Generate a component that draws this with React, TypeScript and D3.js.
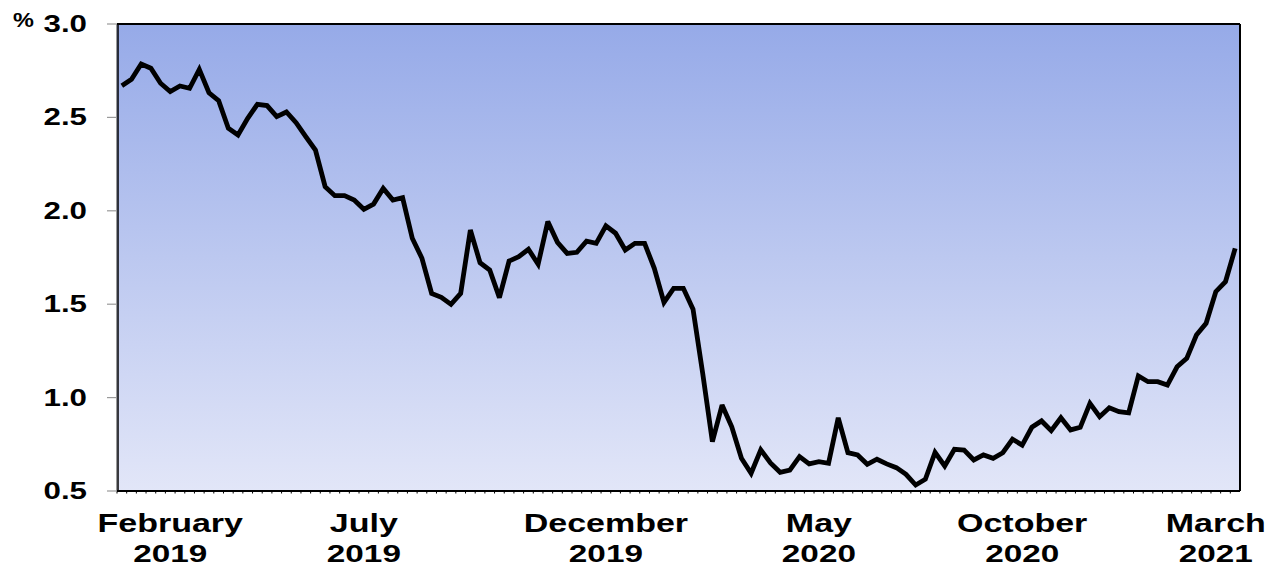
import React from "react";
import * as d3 from "d3";

// Weekly yield series, per cent
const values: number[] = [
  2.670, 2.704, 2.786, 2.763, 2.683, 2.638, 2.668, 2.656, 2.757, 2.632,
  2.589, 2.442, 2.406, 2.495, 2.570, 2.563, 2.504, 2.529, 2.472, 2.397,
  2.325, 2.129, 2.081, 2.081, 2.058, 2.008, 2.036, 2.120, 2.058, 2.070,
  1.853, 1.746, 1.558, 1.537, 1.499, 1.558, 1.897, 1.722, 1.683, 1.535,
  1.731, 1.754, 1.794, 1.714, 1.942, 1.831, 1.772, 1.778, 1.838, 1.826,
  1.919, 1.880, 1.790, 1.826, 1.826, 1.692, 1.510, 1.585, 1.585, 1.473,
  1.130, 0.764, 0.960, 0.844, 0.675, 0.595, 0.720, 0.650, 0.600, 0.612,
  0.684, 0.645, 0.657, 0.648, 0.892, 0.705, 0.693, 0.643, 0.670, 0.645,
  0.625, 0.589, 0.532, 0.563, 0.707, 0.634, 0.723, 0.719, 0.666, 0.693,
  0.675, 0.705, 0.777, 0.746, 0.841, 0.875, 0.823, 0.892, 0.827, 0.841,
  0.969, 0.898, 0.946, 0.925, 0.918, 1.116, 1.085, 1.085, 1.067, 1.165,
  1.210, 1.335, 1.398, 1.567, 1.620, 1.799,
];

// Category labels and the week index they sit under
const monthLabels: string[] = ["February", "July", "December", "May", "October", "March"];
const yearLabels: string[] = ["2019", "2019", "2019", "2020", "2020", "2021"];
const labelIndex: number[] = [5, 25, 50, 72, 93, 113];

const yTicks: number[] = [0.5, 1.0, 1.5, 2.0, 2.5, 3.0];

const W = 1277;
const H = 567;
const plot = { left: 117, right: 1240, top: 24, bottom: 491 };
const STRETCH = 1.36;
const FONT = "'Liberation Sans', Arial, sans-serif";

export default function App() {
  const idx = values.map((_, i) => i);
  const x = d3
    .scaleBand<number>()
    .domain(idx)
    .range([plot.left, plot.right])
    .paddingInner(0)
    .paddingOuter(0);
  const cx = (i: number) => (x(i) as number) + x.bandwidth() / 2;
  const y = d3.scaleLinear().domain([0.5, 3.0]).range([plot.bottom, plot.top]);

  const line = d3
    .line<number>()
    .x((_, i) => cx(i))
    .y((d) => y(d));

  return (
    <svg
      width={W}
      height={H}
      style={{ position: "absolute", left: 0, top: 0 }}
    >
      <defs>
        <linearGradient id="bg" x1="0" y1="0" x2="0" y2="1">
          <stop offset="0%" stopColor="#96aae8" />
          <stop offset="100%" stopColor="#e2e6f8" />
        </linearGradient>
      </defs>
      <rect x={0} y={0} width={W} height={H} fill="#ffffff" />
      <rect
        x={plot.left}
        y={plot.top}
        width={plot.right - plot.left}
        height={plot.bottom - plot.top}
        fill="url(#bg)"
      />
      {/* frame */}
      <line x1={plot.left} x2={plot.right} y1={plot.top} y2={plot.top} stroke="#000" strokeWidth={2} />
      <line x1={plot.right} x2={plot.right} y1={plot.top} y2={plot.bottom} stroke="#000" strokeWidth={2} />
      <line x1={plot.left + 1} x2={plot.left + 1} y1={plot.top} y2={plot.bottom} stroke="#000" strokeWidth={1.5} />
      <line x1={plot.left - 0.5} x2={plot.left - 0.5} y1={plot.top} y2={plot.bottom} stroke="#9a9a9a" strokeWidth={1} />
      {/* category ticks along the bottom */}
      {idx.map((i) => (
        <line
          key={`xt${i}`}
          x1={x(i) as number}
          x2={x(i) as number}
          y1={plot.bottom}
          y2={plot.bottom + 2.5}
          stroke="#000"
          strokeWidth={1}
        />
      ))}
      <line x1={plot.left} x2={plot.right} y1={plot.bottom} y2={plot.bottom} stroke="#000" strokeWidth={2} />
      {/* y ticks */}
      {yTicks.map((t) => (
        <line
          key={`yt${t}`}
          x1={plot.left - 10}
          x2={plot.left}
          y1={y(t)}
          y2={y(t)}
          stroke="#9a9a9a"
          strokeWidth={1.2}
        />
      ))}
      {yTicks.map((t) => (
        <g key={`yl${t}`} transform={`translate(87,${y(t)}) scale(${STRETCH},1)`}>
          <text
            textAnchor="end"
            dominantBaseline="central"
            fontFamily={FONT}
            fontWeight="bold"
            fontSize={23}
            fill="#000"
          >
            {t.toFixed(1)}
          </text>
        </g>
      ))}
      <g transform={`translate(13,27) scale(1.12,1)`}>
        <text fontFamily={FONT} fontWeight="bold" fontSize={21} fill="#000">
          %
        </text>
      </g>
      {/* series */}
      <path
        d={line(values) ?? ""}
        fill="none"
        stroke="#000"
        strokeWidth={4.8}
        strokeLinejoin="miter"
        strokeMiterlimit={3}
      />
      {/* category labels */}
      {labelIndex.map((li, k) => (
        <g key={`xl${k}`} transform={`translate(${cx(li)},0) scale(${STRETCH},1)`}>
          <text
            x={0}
            y={532}
            textAnchor="middle"
            fontFamily={FONT}
            fontWeight="bold"
            fontSize={25}
            fill="#000"
          >
            {monthLabels[k]}
          </text>
          <text
            x={0}
            y={562}
            textAnchor="middle"
            fontFamily={FONT}
            fontWeight="bold"
            fontSize={24.5}
            fill="#000"
          >
            {yearLabels[k]}
          </text>
        </g>
      ))}
    </svg>
  );
}
